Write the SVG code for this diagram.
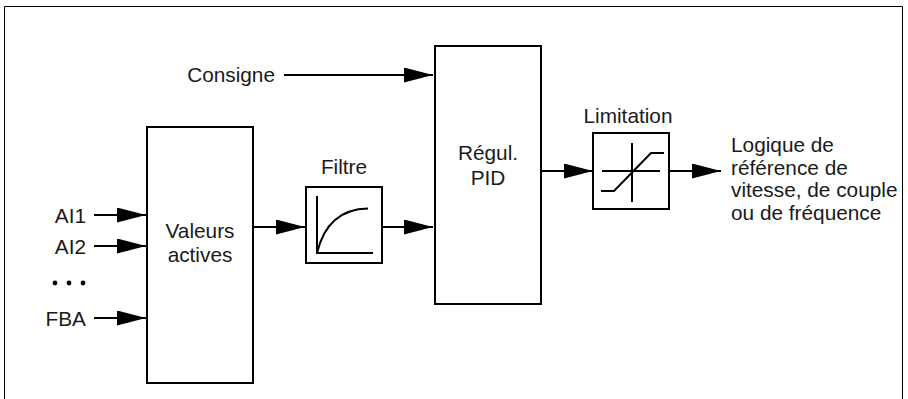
<svg xmlns="http://www.w3.org/2000/svg" width="908" height="399" viewBox="0 0 908 399">
  <defs>
    <marker id="arr" markerUnits="userSpaceOnUse" markerWidth="30" markerHeight="16" refX="29" refY="7.5" orient="auto" viewBox="0 0 30 16">
      <path d="M0,0 L29,7.5 L0,15 z" fill="#000"/>
    </marker>
    <style>
      .box { fill: #fff; stroke: #000; stroke-width: 2; }
      .ln { fill: none; stroke: #000; stroke-width: 2; }
      .con { fill: none; stroke: #000; stroke-width: 2; marker-end: url(#arr); }
      .t { font-family: "Liberation Sans", Arial, sans-serif; font-size: 20.8px; fill: #1a1a1a; }
      .c { text-anchor: middle; }
      .r { text-anchor: end; }
    </style>
  </defs>
  <rect x="0" y="0" width="908" height="399" fill="#fff"/>
  <path d="M4.5,400 V6.5 H902.5 V400" fill="none" stroke="#000" stroke-width="1"/>

  <g id="connectors">
    <line class="con" x1="284" y1="75" x2="433" y2="75"/>
    <line class="con" x1="94" y1="215" x2="146" y2="215"/>
    <line class="con" x1="94" y1="246" x2="146" y2="246"/>
    <line class="con" x1="94" y1="318" x2="146" y2="318"/>
    <line class="con" x1="254" y1="227" x2="305" y2="227"/>
    <line class="con" x1="383" y1="227" x2="433" y2="227"/>
    <line class="con" x1="542" y1="171" x2="593" y2="171"/>
    <line class="con" x1="670" y1="171" x2="721" y2="171"/>
  </g>

  <g id="consigne">
    <text class="t r" x="275" y="81.5">Consigne</text>
  </g>

  <g id="inputs">
    <text class="t r" x="86" y="222.5">AI1</text>
    <text class="t r" x="86" y="253.5">AI2</text>
    <circle cx="55" cy="283" r="2.4" fill="#000"/>
    <circle cx="69" cy="283" r="2.4" fill="#000"/>
    <circle cx="83" cy="283" r="2.4" fill="#000"/>
    <text class="t r" x="86" y="326">FBA</text>
  </g>

  <g id="valeurs">
    <rect class="box" x="147" y="127" width="106" height="256"/>
    <text class="t c" x="200" y="237.5">Valeurs</text>
    <text class="t c" x="200" y="262">actives</text>
  </g>

  <g id="filtre">
    <text class="t c" x="344" y="174">Filtre</text>
    <rect class="box" x="306" y="187" width="76" height="76"/>
    <path class="ln" d="M317,196 V253 H373"/>
    <path class="ln" d="M317,253 C323,228 338,209 368,208.5"/>
  </g>

  <g id="pid">
    <rect class="box" x="435" y="46" width="106" height="258"/>
    <text class="t c" x="488" y="159.5">Régul.</text>
    <text class="t c" x="488" y="184.5">PID</text>
  </g>

  <g id="limitation">
    <text class="t c" x="628" y="122.5">Limitation</text>
    <rect class="box" x="593" y="133" width="76" height="76"/>
    <path class="ln" d="M632,143 V202 M602,171 H660"/>
    <path class="ln" d="M601,191 H614 L651,153 H664"/>
  </g>

  <g id="output">
    <text class="t" x="731" y="152">Logique de</text>
    <text class="t" x="731" y="174.5">référence de</text>
    <text class="t" x="731" y="197">vitesse, de couple</text>
    <text class="t" x="731" y="219.5">ou de fréquence</text>
  </g>
</svg>
